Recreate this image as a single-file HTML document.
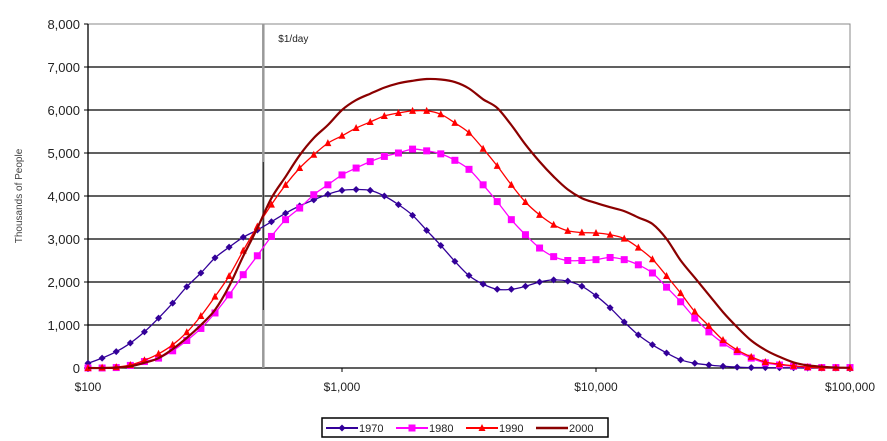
<!DOCTYPE html>
<html><head><meta charset="utf-8"><style>body{margin:0;background:#fff}svg{display:block;font-family:"Liberation Sans",sans-serif}</style></head>
<body>
<svg id="chart" width="887" height="441" viewBox="0 0 887 441"></svg>
<script>
const xTicks=[100,1000,10000,100000];
const xTickLabels=["$100","$1,000","$10,000","$100,000"];
const yTicks=[0,1000,2000,3000,4000,5000,6000,7000,8000];
const yTickLabels=["0","1,000","2,000","3,000","4,000","5,000","6,000","7,000","8,000"];
const years=["1970","1980","1990","2000"];
const s1970=[110,230,380,580,840,1160,1510,1890,2210,2560,2810,3040,3210,3400,3600,3770,3910,4040,4130,4150,4130,4000,3800,3550,3200,2850,2480,2150,1950,1830,1830,1900,2000,2050,2020,1900,1680,1400,1070,770,540,350,190,110,70,40,20,10,10,5,5,0,0,0,0];
const s1980=[0,0,10,60,150,230,400,640,920,1280,1700,2170,2610,3060,3450,3720,4030,4260,4490,4650,4800,4920,5000,5090,5050,4980,4830,4620,4260,3870,3450,3100,2790,2590,2500,2500,2520,2570,2520,2400,2210,1880,1540,1160,840,580,380,230,120,70,40,20,10,10,10];
const s1990=[0,10,20,70,180,330,540,830,1210,1660,2140,2730,3290,3800,4260,4650,4960,5230,5400,5580,5720,5860,5930,5980,5980,5900,5700,5470,5100,4700,4260,3860,3560,3330,3190,3150,3140,3100,3010,2800,2530,2140,1740,1310,980,650,420,260,140,90,50,20,5,5,5];
const s2000=[0,0,10,40,120,230,440,700,1000,1350,1900,2600,3250,3950,4450,4950,5350,5650,6000,6230,6380,6520,6620,6680,6720,6710,6650,6500,6250,6050,5650,5200,4800,4450,4150,3950,3840,3740,3650,3500,3350,3000,2500,2100,1700,1300,950,640,420,260,130,60,30,10,5];
const povertyLine=490;
const L=88,R=850,T=24,B=368;
const xs=v=>L+(Math.log10(v)-2)/3*(R-L);
const ys=v=>B-v/8000*(B-T);
const xi=i=>L+i/54*(R-L);
const svg=document.getElementById('chart');
const NS='http://www.w3.org/2000/svg';
function mk(tag,attrs,parent){const e=document.createElementNS(NS,tag);for(const k in attrs)e.setAttribute(k,attrs[k]);(parent||svg).appendChild(e);return e;}
let e=mk('rect',{x:L,y:T,width:R-L,height:B-T,fill:'none',stroke:'#888','stroke-width':1});


yTicks.forEach((v,k)=>{
 if(v>0&&v<8000){const g=mk('line',{x1:L,x2:R,y1:ys(v),y2:ys(v),stroke:'#000','stroke-width':1.3});
 
 }
 const t=mk('text',{x:L-8,y:ys(v)+5,'text-anchor':'end','font-size':13,fill:'#222'});t.textContent=yTickLabels[k];
 
 
 mk('line',{x1:L-4,x2:L,y1:ys(v),y2:ys(v),stroke:'#000'});
});
mk('line',{x1:L,x2:L,y1:T,y2:B,stroke:'#000','stroke-width':1.3});
mk('line',{x1:L,x2:R,y1:B,y2:B,stroke:'#000','stroke-width':1.3});
xTicks.forEach((v,k)=>{
 mk('line',{x1:xs(v),x2:xs(v),y1:B,y2:B+4,stroke:'#000'});
 const t=mk('text',{x:xs(v),y:B+23,'text-anchor':'middle','font-size':12,fill:'#222'});t.textContent=xTickLabels[k];
 
 
});
let yt=mk('text',{x:0,y:0,transform:'translate(22,196) rotate(-90)','text-anchor':'middle','font-size':10,fill:'#444'});yt.textContent='Thousands of People';


let pl=mk('line',{x1:xs(povertyLine),x2:xs(povertyLine),y1:T,y2:B,stroke:'#999','stroke-width':2.5});


mk('line',{x1:xs(povertyLine),x2:xs(povertyLine),y1:162,y2:310,stroke:'#222','stroke-width':1});
let plt=mk('text',{x:xs(povertyLine)+15,y:42,'font-size':10,fill:'#222'});plt.textContent='$1/day';


const series=[[s1970,'#330099','diamond'],[s1980,'#ff00ff','square'],[s1990,'#ff0000','triangle'],[s2000,'#8b0000','none']];
function marker(type,x,y,c,g){
 if(type==='diamond')mk('path',{d:`M${x} ${y-3.5}L${x+3.5} ${y}L${x} ${y+3.5}L${x-3.5} ${y}Z`,fill:c},g);
 else if(type==='square')mk('rect',{x:x-3.5,y:y-3.5,width:7,height:7,fill:c},g);
 else if(type==='triangle')mk('path',{d:`M${x} ${y-4}L${x+3.5} ${y+3}L${x-3.5} ${y+3}Z`,fill:c},g);
}
function smoothPath(pts){
 let d='M'+pts[0][0].toFixed(1)+' '+pts[0][1].toFixed(1);
 for(let i=0;i<pts.length-1;i++){
  const p0=pts[Math.max(0,i-1)],p1=pts[i],p2=pts[i+1],p3=pts[Math.min(pts.length-1,i+2)];
  const c1x=p1[0]+(p2[0]-p0[0])/6,c1y=p1[1]+(p2[1]-p0[1])/6;
  const c2x=p2[0]-(p3[0]-p1[0])/6,c2y=p2[1]-(p3[1]-p1[1])/6;
  d+=`C${c1x.toFixed(1)} ${c1y.toFixed(1)} ${c2x.toFixed(1)} ${c2y.toFixed(1)} ${p2[0].toFixed(1)} ${p2[1].toFixed(1)}`;
 }
 return d;
}
series.forEach((s,k)=>{
 const g=mk('g',{});
 
 
 const pts=s[0].map((v,i)=>[xi(i),ys(v)]);
 mk('path',{d:smoothPath(pts),fill:'none',stroke:s[1],'stroke-width':k===3?2.2:1.3,'stroke-linejoin':'round'},g);
 if(s[2]!=='none')s[0].forEach((v,i)=>marker(s[2],xi(i),ys(v),s[1],g));
});
const lg=mk('g',{});


mk('rect',{x:322,y:418,width:286,height:19,fill:'#fff',stroke:'#000','stroke-width':1.5},lg);
years.forEach((y,k)=>{
 const x0=326+k*70;
 const it=mk('g',{},lg);
 
 
 mk('line',{x1:x0,x2:x0+32,y1:428,y2:428,stroke:series[k][1],'stroke-width':k===3?2.5:2},it);
 marker(series[k][2],x0+16,428,series[k][1],it);
 const t=mk('text',{x:x0+33,y:432,'font-size':11,fill:'#222'},it);t.textContent=y;
});
</script>
</body></html>
